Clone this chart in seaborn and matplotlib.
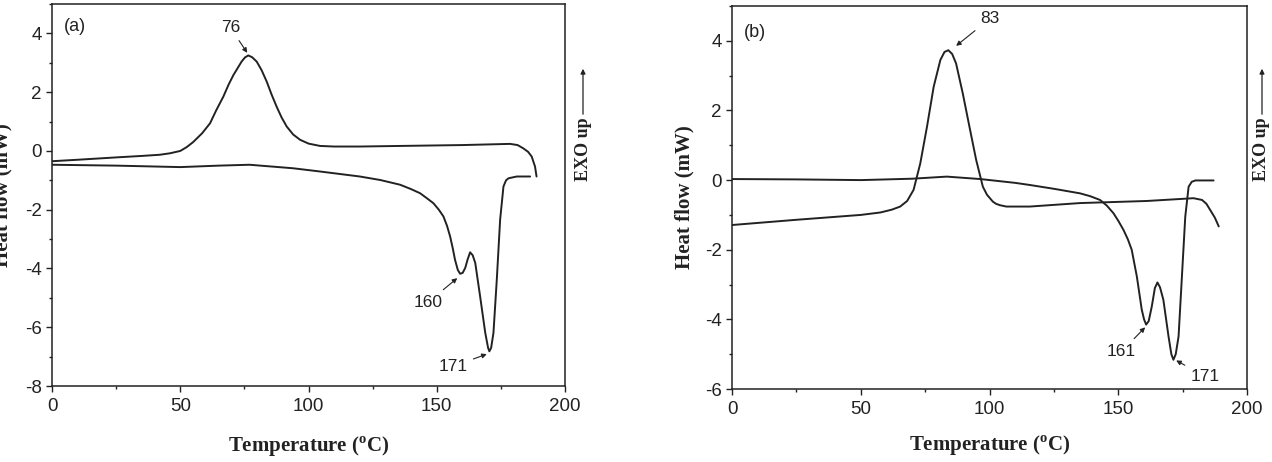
import pandas as pd
import matplotlib
matplotlib.use("Agg")
import matplotlib.pyplot as plt
from matplotlib.ticker import MultipleLocator, AutoMinorLocator
import seaborn as sns

# DSC traces (temperature in degC, heat flow in mW)
a_cool_T = [0, 10, 25, 35, 42, 46, 50, 52.5, 55, 58.5, 61.6, 64, 66.8, 68.8, 70.7, 73.9, 75.2, 76.5, 78,
            79.8, 81.7, 83.7, 85.6, 87.6, 89.5, 91.5, 94, 96.7, 100, 104.5, 110, 120, 135.7, 160,
            178.6, 181.5, 183.7, 185.6, 187, 188.3, 188.9]
a_cool_hf = [-0.35, -0.3, -0.22, -0.17, -0.13, -0.08, 0.0, 0.13, 0.3, 0.6, 0.94, 1.38, 1.85, 2.25, 2.58, 3.04, 3.18, 3.25, 3.19,
             3.04, 2.75, 2.36, 1.92, 1.5, 1.14, 0.83, 0.56, 0.38, 0.25, 0.17, 0.15, 0.15, 0.17, 0.2,
             0.24, 0.2, 0.09, -0.03, -0.19, -0.53, -0.87]

a_heat_T = [0, 25, 50, 65, 77, 94, 104.5, 120, 128, 135.7, 140, 143.5, 146, 148.7, 150.8, 152.6, 154,
            155.2, 156.2, 157.1, 158.2, 159.1, 160.1, 161.1, 162, 163, 164, 165, 166.9, 168.9, 170,
            170.5, 171.2, 172.1, 173.4, 174.7, 176, 177, 178, 181.2, 186.4]
a_heat_hf = [-0.47, -0.5, -0.55, -0.5, -0.47, -0.59, -0.7, -0.87, -0.99, -1.15, -1.3, -1.44, -1.6, -1.78, -2.0, -2.23, -2.55,
             -2.91, -3.3, -3.7, -4.05, -4.18, -4.15, -3.98, -3.7, -3.45, -3.55, -3.81, -4.95, -6.19, -6.7,
             -6.82, -6.7, -6.19, -4.38, -2.34, -1.21, -1.0, -0.93, -0.87, -0.87]

b_cool_T = [0, 25, 50, 57.6, 62, 65.3, 68, 70.5, 73.1, 75.7, 78.3, 80.9, 82.5, 84.0, 85.5, 87.0,
            89.6, 92.2, 94.8, 97.4, 99, 101.3, 102.5, 104, 106.5, 115.6, 135.1, 161, 179.2, 182.5,
            184.2, 185.7, 187.5, 189]
b_cool_hf = [-1.29, -1.14, -1.0, -0.93, -0.85, -0.76, -0.6, -0.28, 0.48, 1.53, 2.68, 3.45, 3.68, 3.73, 3.62, 3.35,
             2.49, 1.53, 0.58, -0.19, -0.42, -0.62, -0.68, -0.72, -0.76, -0.76, -0.66, -0.6, -0.52, -0.57,
             -0.68, -0.86, -1.08, -1.33]

b_heat_T = [0, 25, 50, 70, 83.4, 96.4, 110, 115.6, 125, 135.1, 139, 142.9, 145.5, 148.1, 150, 152,
            153.7, 155.2, 157.2, 159.1, 160, 160.8, 161.8, 163, 164.2, 165.2, 166.2, 167.5, 169.5,
            170.6, 171.4, 172.3, 173.4, 174.7, 176, 177.3, 178.5, 179.9, 187]
b_heat_hf = [0.03, 0.02, 0.0, 0.04, 0.1, 0.03, -0.08, -0.14, -0.25, -0.38, -0.46, -0.57, -0.73, -0.95, -1.17, -1.43,
             -1.7, -2.0, -2.77, -3.72, -4.0, -4.15, -4.05, -3.63, -3.1, -2.94, -3.08, -3.44, -4.49,
             -5.0, -5.16, -5.0, -4.49, -2.77, -1.05, -0.19, -0.05, -0.01, -0.01]

# peak labels: (text, peak T, peak hf, text T, text hf)
a_peaks = [("76", 76.4, 3.3, 69.5, 4.2), ("160", 158.4, -4.3, 146.6, -5.15), ("171", 170.0, -6.9, 156.3, -7.33)]
b_peaks = [("83", 86.6, 3.83, 100.2, 4.64), ("161", 160.8, -4.2, 151.3, -4.92), ("171", 172.0, -5.16, 183.7, -5.64)]

sns.set_style("ticks")
plt.rcParams['font.family'] = ['Liberation Sans', 'DejaVu Sans']
plt.rcParams['axes.unicode_minus'] = False
plt.rcParams['mathtext.fontset'] = 'custom'
plt.rcParams['mathtext.rm'] = 'Liberation Serif'
plt.rcParams['mathtext.bf'] = 'Liberation Serif:bold'

ink = '#222222'
serif = ['Liberation Serif', 'DejaVu Serif']

fig = plt.figure(figsize=(12.72, 4.62), dpi=100)
ax_a = fig.add_axes([0.0409, 0.1645, 0.4033, 0.8268])
ax_b = fig.add_axes([0.5755, 0.158, 0.4049, 0.829])

panels = [
    (ax_a, a_cool_T, a_cool_hf, a_heat_T, a_heat_hf, a_peaks, (-8, 5), '(a)', -0.078, -0.126, 0.94),
    (ax_b, b_cool_T, b_cool_hf, b_heat_T, b_heat_hf, b_peaks, (-6, 5), '(b)', -0.072, -0.117, 0.932),
]

for ax, cT, chf, hT, hhf, peaks, ylim, tag, ylab_x, xlab_y, tag_y in panels:
    cool = pd.DataFrame({'T': cT, 'hf': chf})
    heat = pd.DataFrame({'T': hT, 'hf': hhf})
    sns.lineplot(data=cool, x='T', y='hf', ax=ax, sort=False, estimator=None, color=ink, lw=1.4)
    sns.lineplot(data=heat, x='T', y='hf', ax=ax, sort=False, estimator=None, color=ink, lw=1.4)

    ax.set_xlim(0, 200)
    ax.set_ylim(*ylim)
    ax.xaxis.set_major_locator(MultipleLocator(50))
    ax.yaxis.set_major_locator(MultipleLocator(2))
    ax.xaxis.set_minor_locator(AutoMinorLocator(2))
    ax.yaxis.set_minor_locator(AutoMinorLocator(2))
    ax.tick_params(which='major', direction='out', length=4, width=1.0, labelsize=13.5, colors=ink)
    ax.tick_params(axis='x', which='major', pad=4.5)
    ax.tick_params(which='minor', direction='out', length=2.5, width=1.0, colors=ink)
    for s in ax.spines.values():
        s.set_linewidth(1.1)
        s.set_color(ink)

    ax.set_xlabel('Temperature ($^{\\mathbf{o}}$C)', fontsize=15, fontweight='bold', family=serif, color=ink)
    ax.set_ylabel('Heat flow (mW)', fontsize=15, fontweight='bold', family=serif, color=ink)
    ax.xaxis.set_label_coords(0.5, xlab_y)
    ax.yaxis.set_label_coords(ylab_x, 0.5)

    ax.text(0.045, tag_y, tag, transform=ax.transAxes,
            fontsize=13, ha='center', va='center', color=ink)

    for label, px, py, tx, ty in peaks:
        ax.annotate(label, xy=(px, py), xytext=(tx, ty), ha='center', va='center',
                    fontsize=12.5, color=ink,
                    arrowprops=dict(arrowstyle='-|>', lw=0.8, color=ink,
                                    mutation_scale=7, shrinkA=2, shrinkB=1))

# "EXO up" with arrow on the right side of each panel
for xf in [583 / 1272, 1262 / 1272]:
    fig.text(xf, 1 - 181 / 462, 'EXO up', rotation=90, ha='center', va='bottom',
             fontsize=13, fontweight='bold', family=serif, color=ink)
    fig.patches.append(matplotlib.patches.FancyArrowPatch(
        (xf, 1 - 117 / 462), (xf, 1 - 66 / 462), transform=fig.transFigure,
        arrowstyle='-|>', mutation_scale=7, lw=0.9, color=ink))

fig.savefig('out.png', dpi=100, facecolor='white')
